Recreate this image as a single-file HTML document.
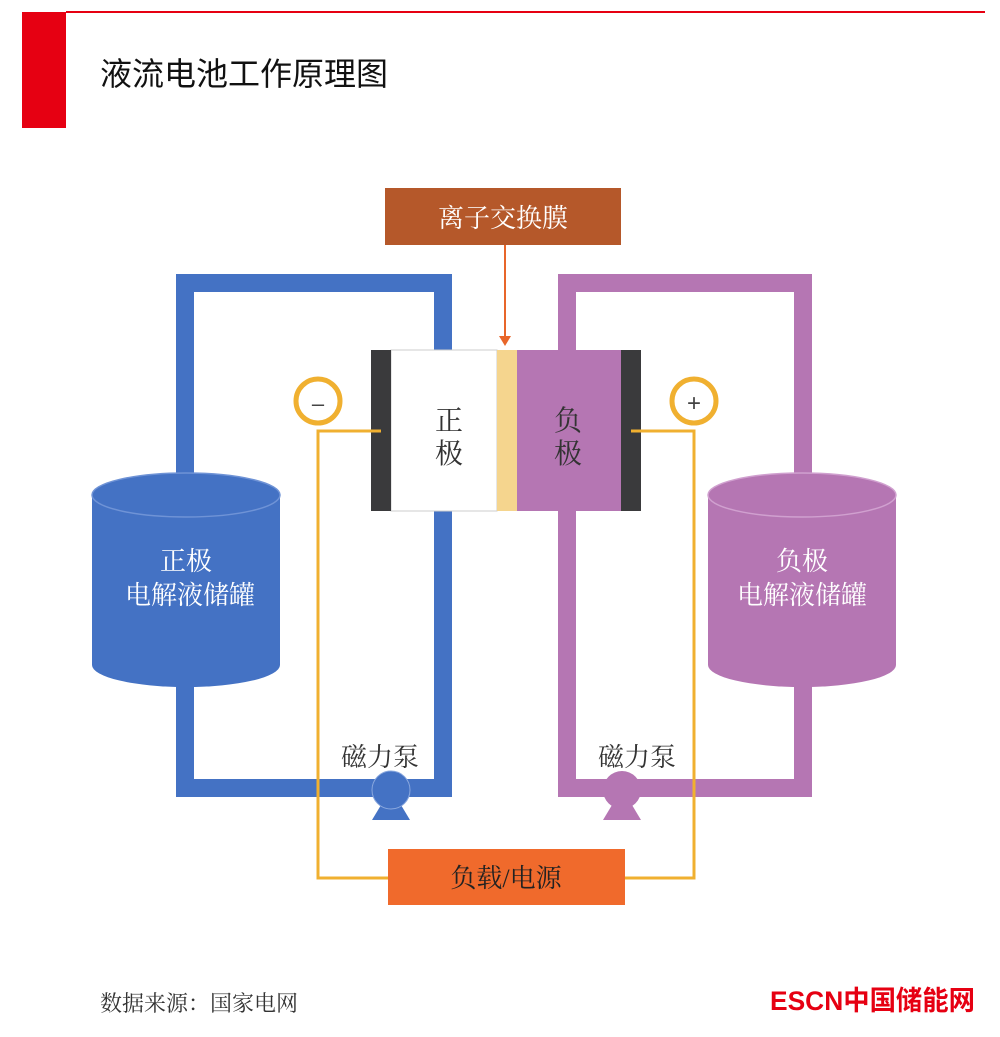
<!DOCTYPE html>
<html><head><meta charset="utf-8"><style>
body{margin:0;background:#fff;}
svg text{font-family:"Liberation Serif","Noto Serif CJK SC",serif;}
</style></head><body>
<svg width="1000" height="1032" viewBox="0 0 1000 1032" xmlns="http://www.w3.org/2000/svg">
<rect x="22" y="12" width="44" height="116" fill="#e60012"/>
<rect x="66" y="11" width="919" height="2" fill="#e60012"/>
<text x="100" y="85" font-size="32" fill="#111" style="font-family:'Liberation Sans','Noto Sans CJK SC',sans-serif">液流电池工作原理图</text>

<g fill="#4472c4">
<rect x="176" y="274" width="276" height="18"/>
<rect x="176" y="274" width="18" height="523"/>
<rect x="434" y="274" width="18" height="523"/>
<rect x="176" y="779" width="276" height="18"/>
</g>
<g fill="#b576b3">
<rect x="558" y="274" width="254" height="18"/>
<rect x="558" y="274" width="18" height="523"/>
<rect x="794" y="274" width="18" height="523"/>
<rect x="558" y="779" width="254" height="18"/>
</g>

<rect x="385" y="188" width="236" height="57" fill="#b5582a"/>
<text x="503" y="227" font-size="26" fill="#fff" text-anchor="middle">离子交换膜</text>
<line x1="505" y1="245" x2="505" y2="338" stroke="#e8662a" stroke-width="2"/>
<polygon points="499,336 511,336 505,346" fill="#e8662a"/>

<rect x="391" y="350" width="106" height="161" fill="#fff" stroke="#ccc"/>
<rect x="497" y="350" width="20" height="161" fill="#f5d58e"/>
<rect x="517" y="350" width="104" height="161" fill="#b576b3"/>
<rect x="371" y="350" width="20" height="161" fill="#3a3a3c"/>
<rect x="621" y="350" width="20" height="161" fill="#3a3a3c"/>
<text x="449" y="430" font-size="28" fill="#333" text-anchor="middle">正</text>
<text x="449" y="463" font-size="28" fill="#333" text-anchor="middle">极</text>
<text x="568" y="430" font-size="28" fill="#333" text-anchor="middle">负</text>
<text x="568" y="463" font-size="28" fill="#333" text-anchor="middle">极</text>

<g stroke="#f0b030" stroke-width="3" fill="none">
<polyline points="381,431 318,431 318,878 388,878"/>
<polyline points="631,431 694,431 694,878 625,878"/>
<circle cx="318" cy="401" r="22" stroke-width="5"/>
<circle cx="694" cy="401" r="22" stroke-width="5"/>
</g>
<text x="318" y="411" font-size="22" fill="#444" text-anchor="middle" style="font-family:'Liberation Sans',sans-serif">–</text>
<text x="694" y="411" font-size="24" fill="#444" text-anchor="middle" style="font-family:'Liberation Sans',sans-serif">+</text>

<rect x="388" y="849" width="237" height="56" fill="#f06a2c"/>
<text x="506" y="887" font-size="26" fill="#222" text-anchor="middle">负载/电源</text>

<path d="M92,495 L92,665 A94,22 0 0 0 280,665 L280,495 Z" fill="#4472c4"/>
<ellipse cx="186" cy="495" rx="94" ry="22" fill="#4472c4" stroke="#6f93d6" stroke-width="1.5"/>
<text x="186" y="570" font-size="26" fill="#fff" text-anchor="middle">正极</text>
<text x="190" y="604" font-size="26" fill="#fff" text-anchor="middle">电解液储罐</text>
<path d="M708,495 L708,665 A94,22 0 0 0 896,665 L896,495 Z" fill="#b576b3"/>
<ellipse cx="802" cy="495" rx="94" ry="22" fill="#b576b3" stroke="#d0a0cf" stroke-width="1.5"/>
<text x="802" y="570" font-size="26" fill="#fff" text-anchor="middle">负极</text>
<text x="802" y="604" font-size="26" fill="#fff" text-anchor="middle">电解液储罐</text>

<polygon points="372,820 410,820 398,800 384,800" fill="#4472c4"/>
<circle cx="391" cy="790" r="19" fill="#4472c4" stroke="#8aa8de" stroke-width="1"/>
<polygon points="603,820 641,820 629,800 615,800" fill="#b576b3"/>
<circle cx="622" cy="790" r="19" fill="#b576b3"/>
<text x="380" y="766" font-size="26" fill="#333" text-anchor="middle">磁力泵</text>
<text x="637" y="766" font-size="26" fill="#333" text-anchor="middle">磁力泵</text>

<text x="100" y="1011" font-size="22" fill="#333">数据来源：国家电网</text>
<text x="770" y="1010" font-size="27" font-weight="bold" fill="#e60012" style="font-family:'Liberation Sans','Noto Sans CJK SC',sans-serif" textLength="205" lengthAdjust="spacingAndGlyphs">ESCN中国储能网</text>
</svg>
</body></html>
